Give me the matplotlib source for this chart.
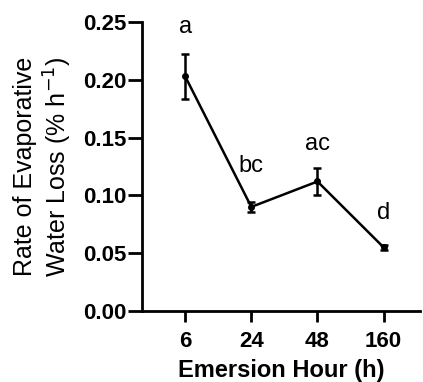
"""Rate of evaporative water loss across emersion hours (mean +/- SE)."""

import matplotlib
matplotlib.use("Agg")
import matplotlib.pyplot as plt

hours = ["6", "24", "48", "160"]
rate = [0.203, 0.090, 0.112, 0.055]
err = [0.0195, 0.004, 0.0117, 0.002]
letters = ["a", "bc", "ac", "d"]
letter_y = [0.2455, 0.125, 0.144, 0.085]

plt.rcParams["font.family"] = ["Liberation Sans", "DejaVu Sans"]


def main() -> None:
    fig = plt.figure(figsize=(4.23, 3.82), dpi=100)
    ax = fig.add_axes([0.336, 0.186, 0.657, 0.7565])

    x = list(range(len(hours)))
    ax.errorbar(x, rate, yerr=err, color="black", linewidth=1.8,
                marker="o", markersize=4, capsize=3.2, capthick=1.8,
                elinewidth=1.8)
    for xi, lab, ly in zip(x, letters, letter_y):
        ax.text(xi, ly, lab, ha="center", va="center", fontsize=17)

    ax.set_xlim(-0.65, 3.55)
    ax.set_ylim(0, 0.25)
    ax.set_xticks(x)
    ax.set_xticklabels(hours)
    ax.set_yticks([0, 0.05, 0.10, 0.15, 0.20, 0.25])
    ax.set_yticklabels([f"{v:.2f}" for v in ax.get_yticks()])

    for s in ("top", "right"):
        ax.spines[s].set_visible(False)
    for s in ("left", "bottom"):
        ax.spines[s].set_linewidth(2.0)

    ax.tick_params(axis="y", length=10, width=2.0, pad=1.5, labelsize=16)
    ax.tick_params(axis="x", length=8, width=2.0, pad=6.5, labelsize=16)
    for t in ax.get_xticklabels() + ax.get_yticklabels():
        t.set_fontweight("bold")

    ax.set_xlabel("Emersion Hour (h)", fontsize=17, fontweight="bold",
                  labelpad=5)
    ax.set_ylabel("Rate of Evaporative\nWater Loss (% h$^{-1}$)", fontsize=18,
                  labelpad=6, linespacing=1.2)

    fig.savefig("out.png", dpi=100)


if __name__ == "__main__":
    main()
